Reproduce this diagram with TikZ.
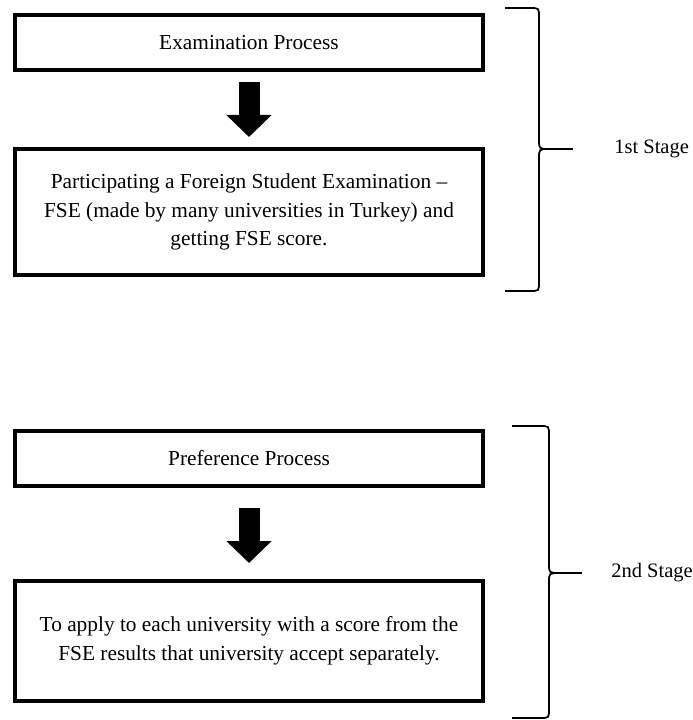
\documentclass[tikz,border=0pt]{standalone}
\usepackage{fontspec}
\setmainfont{Liberation Serif}
\usetikzlibrary{arrows.meta,positioning}
\def\stagebrace(#1,#2,#3)(#4,#5,#6){%
  \draw[line width=1.3pt] (#1,#4) -- ({#2-9},#4) .. controls (#2,#4) .. (#2,{#4+9})
    -- (#2,{#5-9}) .. controls (#2,#5) .. ({#2+11},#5)
    .. controls (#2,#5) .. (#2,{#5+9})
    -- (#2,{#6-9}) .. controls (#2,#6) .. ({#2-9},#6) -- (#1,#6);
  \draw[line width=2.2pt] ({#2+10},#5) -- (#3,#5);}

\tikzset{
  procbox/.style={draw, line width=3pt, minimum width=351pt, inner sep=0pt,
    align=center, font=\fontsize{16}{21.6}\selectfont},
  downarrow/.style={line width=15.75pt, -{Triangle[width=33pt,length=16.5pt]}},
  stagelabel/.style={inner sep=0pt, anchor=west, font=\fontsize{15.4}{18}\selectfont}
}

\begin{document}
\begin{tikzpicture}[x=0.75pt, y=-0.75pt]
		%%%%% START %%%%%
		\useasboundingbox (0,0) rectangle (692,720);
		
		\node[procbox, minimum height=41.25pt] (exam) at (249,42.5) {Examination Process};
		\node[procbox, minimum height=94.5pt] (part) at (249,212)
			{Participating a Foreign Student Examination --\\
			 FSE (made by many universities in Turkey) and\\
			 getting FSE score.};
		\draw[downarrow] ([yshift=-7.5pt]exam.south) -- ([yshift=7.5pt]part.north);
		
		\node[procbox, minimum height=41.25pt] (pref) at (249,458.5) {Preference Process};
		\node[procbox, minimum height=90pt] (apply) at (249,641)
			{To apply to each university with a score from the\\
			 FSE results that university accept separately.};
		\draw[downarrow] ([yshift=-15pt]pref.south) -- ([yshift=12pt]apply.north);
		
		\stagebrace(505,539,573)(8,149,291)
		\coordinate (tip1) at (573,149);
		\node[stagelabel, right=30.75pt of tip1] (first) {1st Stage};
		
		\stagebrace(512,549,582)(426,573,718)
		\coordinate (tip2) at (582,573);
		\node[stagelabel, right=21.75pt of tip2] (second) {2nd Stage};
		
		%%%%% END %%%%%
	\end{tikzpicture}
\end{document}
